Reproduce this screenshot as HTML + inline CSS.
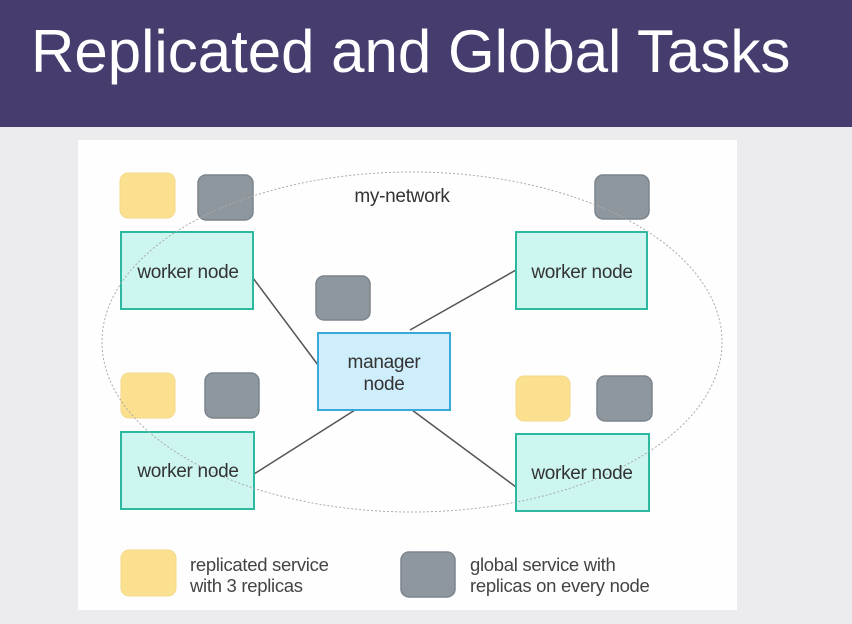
<!DOCTYPE html>
<html><head><style>
body{margin:0;width:852px;height:624px;background:#ececee;overflow:hidden;font-family:"Liberation Sans",sans-serif;}
</style></head><body>
<svg width="852" height="624" xmlns="http://www.w3.org/2000/svg" style="position:absolute;left:0;top:0">
<rect x="0" y="0" width="852" height="127" fill="#463d6e"/>
<text x="31" y="72" font-family="Liberation Sans" font-size="60" fill="#ffffff">Replicated and Global Tasks</text>
<rect x="78" y="140" width="659" height="470" fill="#fefefe"/>
<g stroke="#555" stroke-width="1.5">
<line x1="253" y1="278" x2="318" y2="365"/>
<line x1="410" y1="330" x2="516" y2="270"/>
<line x1="355" y1="410" x2="254" y2="474"/>
<line x1="412" y1="410" x2="516" y2="487"/>
</g>
<g fill="#fae08f" stroke="#f4d98a">
<rect x="120" y="173" width="55" height="45" rx="8"/>
<rect x="121" y="373" width="54" height="45" rx="8"/>
<rect x="516" y="376" width="54" height="45" rx="8"/>
<rect x="121" y="550" width="55" height="46" rx="8"/>
</g>
<g fill="#8e979e" stroke="#7b848b" stroke-width="1.5">
<rect x="198" y="175" width="55" height="45" rx="8"/>
<rect x="316" y="276" width="54" height="44" rx="8"/>
<rect x="595" y="175" width="54" height="44" rx="8"/>
<rect x="205" y="373" width="54" height="45" rx="8"/>
<rect x="597" y="376" width="55" height="45" rx="8"/>
<rect x="401" y="552" width="54" height="45" rx="8"/>
</g>
<g fill="#cdf6f1" stroke="#2db8a0" stroke-width="2">
<rect x="121" y="232" width="132" height="77"/>
<rect x="516" y="232" width="131" height="77"/>
<rect x="121" y="432" width="133" height="77"/>
<rect x="516" y="434" width="133" height="77"/>
</g>
<rect x="318" y="333" width="132" height="77" fill="#cfeefb" stroke="#3aa8d8" stroke-width="2"/>
<ellipse cx="412" cy="342" rx="310" ry="170" fill="none" stroke="#aaaaaa" stroke-width="1" stroke-dasharray="2,2"/>
<g font-family="Liberation Sans" font-size="19" fill="#333" text-anchor="middle" letter-spacing="-0.3">
<text x="188" y="278">worker node</text>
<text x="582" y="278">worker node</text>
<text x="188" y="477">worker node</text>
<text x="582" y="479">worker node</text>
<text x="384" y="368">manager</text>
<text x="384" y="390">node</text>
<text x="402" y="202">my-network</text>
</g>
<g font-family="Liberation Sans" font-size="18.5" fill="#444" letter-spacing="-0.3">
<text x="190" y="571">replicated service</text>
<text x="190" y="592">with 3 replicas</text>
<text x="470" y="571">global service with</text>
<text x="470" y="592">replicas on every node</text>
</g>
</svg>
</body></html>
